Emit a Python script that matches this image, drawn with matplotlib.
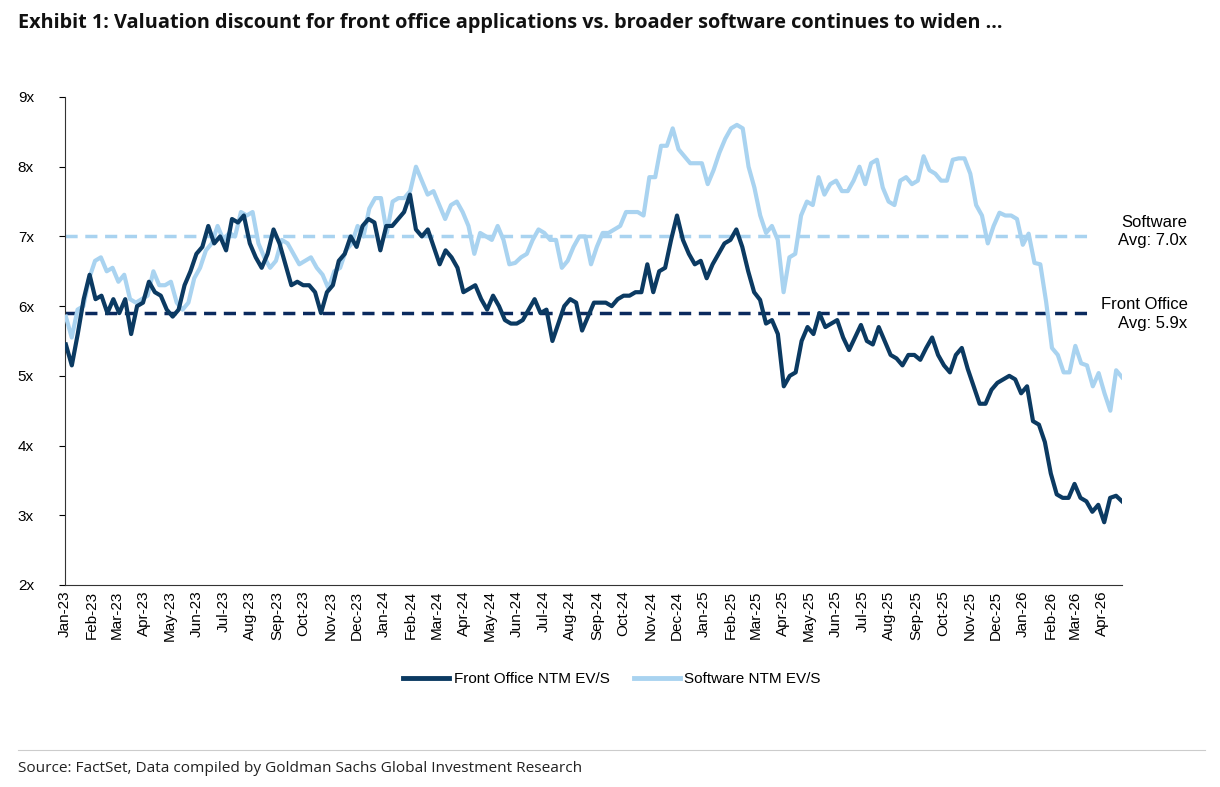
import matplotlib
matplotlib.use("Agg")
import matplotlib.pyplot as plt
import matplotlib.dates as mdates
import pandas as pd
import numpy as np

front_office = [5.45, 5.15, 5.6, 6.1, 6.45, 6.1, 6.15, 5.9, 6.1, 5.9, 6.1, 5.6, 6.0, 6.05, 6.35, 6.2, 6.15,
    5.95, 5.85, 5.95, 6.3, 6.5, 6.75, 6.85, 7.15, 6.9, 7.0, 6.8, 7.25, 7.2, 7.3, 6.9, 6.7, 6.55, 6.75,
    7.1, 6.9, 6.6, 6.3, 6.35, 6.3, 6.3, 6.2, 5.9, 6.2, 6.3, 6.65, 6.75, 7.0, 6.85, 7.15, 7.25, 7.2, 6.8, 7.15,
    7.15, 7.25, 7.35, 7.6, 7.1, 7.0, 7.1, 6.85, 6.6, 6.8, 6.7, 6.55, 6.2, 6.25, 6.3, 6.1, 5.95, 6.15, 6.0, 5.8,
    5.75, 5.75, 5.8, 5.95, 6.1, 5.9, 5.95, 5.5, 5.75, 6.0, 6.1, 6.05, 5.65, 5.85, 6.05, 6.05, 6.05, 6.0, 6.1, 6.15,
    6.15, 6.2, 6.2, 6.6, 6.2, 6.5, 6.55, 6.95, 7.3, 6.95, 6.75, 6.6, 6.65, 6.4, 6.6, 6.75, 6.9, 6.95, 7.1, 6.85,
    6.5, 6.2, 6.09, 5.75, 5.8, 5.6, 4.85, 5.0, 5.05, 5.5, 5.7, 5.6, 5.9, 5.7, 5.75, 5.8, 5.55, 5.37, 5.55,
    5.73, 5.5, 5.45, 5.7, 5.5, 5.3, 5.25, 5.15, 5.3, 5.3, 5.23, 5.4, 5.55, 5.3, 5.15, 5.05, 5.3, 5.4, 5.1,
    4.85, 4.6, 4.6, 4.8, 4.9, 4.95, 5.0, 4.95, 4.75, 4.85, 4.35, 4.3, 4.05, 3.6, 3.3, 3.25, 3.25, 3.45,
    3.25, 3.2, 3.05, 3.15, 2.9, 3.25, 3.28, 3.2]

software = [5.85, 5.55, 5.95, 6.0, 6.4, 6.65, 6.7, 6.5, 6.55, 6.35, 6.45, 6.1, 6.05, 6.1, 6.15, 6.5, 6.3,
    6.3, 6.35, 6.05, 5.95, 6.05, 6.4, 6.55, 6.8, 6.9, 7.15, 6.95, 7.05, 7.0, 7.35, 7.3, 7.35, 6.9, 6.7,
    6.55, 6.65, 6.95, 6.9, 6.75, 6.6, 6.65, 6.7, 6.55, 6.45, 6.25, 6.5, 6.55, 6.8, 6.9, 7.15, 7.0, 7.4,
    7.55, 7.55, 7.05, 7.5, 7.55, 7.55, 7.65, 8.0, 7.8, 7.6, 7.65, 7.45, 7.25, 7.45, 7.5, 7.35, 7.15, 6.75,
    7.05, 7.0, 6.95, 7.15, 6.95, 6.6, 6.62, 6.7, 6.75, 6.95, 7.1, 7.05, 6.95, 6.95, 6.55, 6.65, 6.85, 7.0,
    7.0, 6.6, 6.85, 7.05, 7.05, 7.1, 7.15, 7.35, 7.35, 7.35, 7.3, 7.85, 7.85, 8.3, 8.3, 8.55, 8.25, 8.15,
    8.05, 8.05, 8.05, 7.75, 7.95, 8.2, 8.4, 8.55, 8.6, 8.55, 8.0, 7.7, 7.3, 7.05, 7.15, 6.95, 6.2, 6.7,
    6.75, 7.3, 7.5, 7.45, 7.85, 7.6, 7.75, 7.8, 7.65, 7.65, 7.8, 8.0, 7.75, 8.05, 8.1, 7.7, 7.5, 7.45, 7.8,
    7.85, 7.75, 7.8, 8.15, 7.95, 7.9, 7.8, 7.8, 8.1, 8.12, 8.12, 7.9, 7.45, 7.3, 6.9, 7.15, 7.34, 7.3, 7.3,
    7.25, 6.88, 7.04, 6.62, 6.6, 6.06, 5.4, 5.3, 5.05, 5.05, 5.43, 5.18, 5.15, 4.85, 5.04, 4.75, 4.5, 5.08,
    4.98]

fo_avg = 5.9
sw_avg = 7.0
start, end = "2023-01-02", "2026-04-24"
fo_dates = pd.date_range(start, end, periods=len(front_office))
sw_dates = pd.date_range(start, end, periods=len(software))

W, H = 1220, 787
fig = plt.figure(figsize=(W / 100, H / 100), dpi=100)
plt.rcParams['font.family'] = ['Liberation Sans', 'DejaVu Sans']
ax = fig.add_axes([65 / W, 1 - 585 / H, (1122 - 65) / W, (585 - 97) / H])

dark = '#0b3a62'
light = '#a9d3f0'
ax.plot(sw_dates, software, color=light, lw=3, label='Software NTM EV/S', zorder=3)
ax.plot(fo_dates, front_office, color=dark, lw=3, label='Front Office NTM EV/S', zorder=4)
ax.axhline(sw_avg, xmax=(1093 - 65) / (1122 - 65), color=light, lw=2.5, ls=(0, (3.5, 2.2)), zorder=2)
ax.axhline(fo_avg, xmax=(1093 - 65) / (1122 - 65), color='#0a2a5e', lw=2.5, ls=(0, (3.5, 2.2)), zorder=2)

ax.text(1.062, (sw_avg - 2) / 7 + 0.01, 'Software\nAvg: 7.0x', transform=ax.transAxes, ha='right',
        va='center', fontsize=12, linespacing=1.3)
ax.text(1.062, (fo_avg - 2) / 7 - 0.002, 'Front Office\nAvg: 5.9x', transform=ax.transAxes, ha='right',
        va='center', fontsize=12, linespacing=1.3)

ax.set_ylim(2, 9)
ax.set_yticks(range(2, 10))
ax.set_yticklabels([f'{v}x' for v in range(2, 10)], fontsize=11)
ax.set_xlim(pd.Timestamp('2023-01-01'), pd.Timestamp('2026-04-24'))
ax.xaxis.set_major_locator(mdates.MonthLocator())
ax.xaxis.set_major_formatter(mdates.DateFormatter('%b-%y'))
plt.setp(ax.get_xticklabels(), rotation=90, fontsize=11)
ax.tick_params(axis='x', length=0, pad=4)
ax.tick_params(axis='y', length=4, direction='out')
for lbl in ax.get_yticklabels():
    lbl.set_horizontalalignment('left')
ax.tick_params(axis='y', pad=30)
for s in ['top', 'right']:
    ax.spines[s].set_visible(False)
ax.spines['left'].set_color('#333333')
ax.spines['bottom'].set_color('#333333')

h, l = ax.get_legend_handles_labels()
leg = fig.legend(h[::-1], l[::-1], loc='center', bbox_to_anchor=(612 / W, 1 - 679 / H), ncol=2, frameon=False,
           fontsize=11, handlelength=3.0, columnspacing=1.6, handletextpad=0.3)
for line in leg.get_lines():
    line.set_linewidth(3.5)

fig.text(18 / W, 1 - 23 / H, 'Exhibit 1: Valuation discount for front office applications vs. broader software continues to widen ...',
         fontsize=14.3, fontweight='bold', family=['Open Sans', 'DejaVu Sans'], va='center', color='#111111')
fig.add_artist(plt.Line2D([18 / W, 1205 / W], [1 - 750 / H, 1 - 750 / H], color='#cccccc', lw=0.8))
fig.text(18 / W, 1 - 768 / H, 'Source: FactSet, Data compiled by Goldman Sachs Global Investment Research',
         fontsize=11.1, family=['Open Sans', 'DejaVu Sans'], va='center', color='#222222')

fig.savefig('out.png', dpi=100)
